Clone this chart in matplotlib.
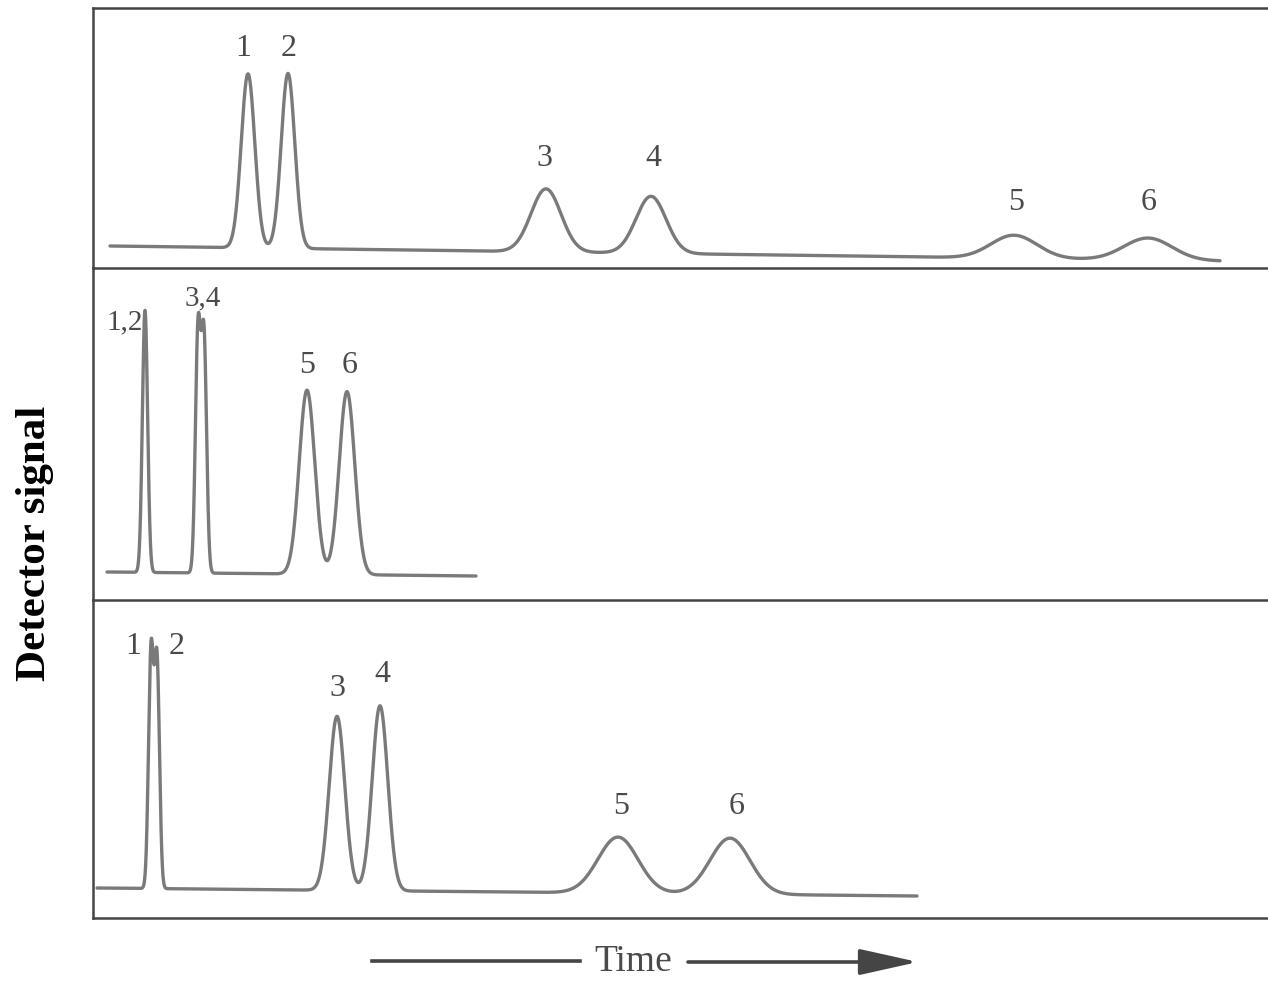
import numpy as np
import matplotlib
matplotlib.use("Agg")
import matplotlib.pyplot as plt

# ---------------- data (time in arbitrary units, signal in arbitrary units) ----------
# Panel 1 (top)
p1_range = [0.17, 11.27]          # start / end time of trace
p1_baseline = [0.0, -15.0]        # baseline signal at start / end
p1_times = [1.55, 1.95, 4.53, 5.58, 9.21, 10.55]
p1_heights = [174, 175, 63, 57, 23, 22]
p1_sigmas = [0.068, 0.068, 0.15, 0.15, 0.23, 0.24]
p1_labels = ["1", "2", "3", "4", "5", "6"]
p1_label_t = [1.50, 1.96, 4.51, 5.60, 9.23, 10.56]
p1_label_s = [198, 198, 88, 88, 44, 44]

# Panel 2 (middle)
p2_range = [0.14, 3.83]
p2_baseline = [0.0, -4.0]
p2_times = [0.52, 1.05, 1.11, 2.14, 2.54]
p2_heights = [262, 240, 232, 184, 183]
p2_sigmas = [0.026, 0.026, 0.026, 0.078, 0.078]
p2_labels = ["1,2", "3,4", "5", "6"]
p2_label_t = [0.32, 1.10, 2.14, 2.57]
p2_label_s = [250, 274, 207, 207]

# Panel 3 (bottom)
p3_range = [0.04, 8.24]
p3_baseline = [0.0, -8.0]
p3_times = [0.58, 0.64, 2.44, 2.87, 5.25, 6.37]
p3_heights = [235, 225, 174, 185, 56, 56]
p3_sigmas = [0.025, 0.025, 0.078, 0.078, 0.20, 0.20]
p3_labels = ["1", "2", "3", "4", "5", "6"]
p3_label_t = [0.40, 0.84, 2.44, 2.89, 5.28, 6.44]
p3_label_s = [241, 241, 200, 213, 82, 82]

# vertical signal range of each panel (bottom, top)
p1_ylim = [-22, 238]
p2_ylim = [-28, 304]
p3_ylim = [-30, 288]

x_max = 11.75
axis_label = "Detector signal"
time_label = "Time"

# ---------------- figure ----------------
W, H = 1268, 982
fig = plt.figure(figsize=(W / 100, H / 100), dpi=100)
fig.patch.set_facecolor("white")

trace_color = "#7a7a7a"
rule_color = "#454545"
label_color = "#4a4a4a"
serif = ["Liberation Serif", "DejaVu Serif"]

left = 93 / W
panels = [
    (8, 268, p1_range, p1_baseline, p1_times, p1_heights, p1_sigmas,
     p1_labels, p1_label_t, p1_label_s, p1_ylim),
    (268, 600, p2_range, p2_baseline, p2_times, p2_heights, p2_sigmas,
     p2_labels, p2_label_t, p2_label_s, p2_ylim),
    (600, 918, p3_range, p3_baseline, p3_times, p3_heights, p3_sigmas,
     p3_labels, p3_label_t, p3_label_s, p3_ylim),
]

for i, (ytop, ybot, rng, base, times, heights, sigmas,
        labels, lt, ls, ylim) in enumerate(panels):
    ax = fig.add_axes([left, 1 - ybot / H, 1 - left, (ybot - ytop) / H])
    ax.set_facecolor("none")
    t = np.linspace(rng[0], rng[1], 6000)
    signal = np.interp(t, rng, base)
    for t0, h, s in zip(times, heights, sigmas):
        signal = signal + h * np.exp(-0.5 * ((t - t0) / s) ** 2)
    ax.plot(t, signal, color=trace_color, lw=2.4, solid_capstyle="round")
    for lab, x, y in zip(labels, lt, ls):
        fs = 21 if "," in lab else 23
        ax.text(x, y, lab, ha="center", va="center", fontsize=fs,
                family=serif, color=label_color)
    ax.set_xlim(0, x_max)
    ax.set_ylim(*ylim)
    ax.set_xticks([])
    ax.set_yticks([])
    ax.spines["right"].set_visible(False)
    ax.spines["top"].set_visible(i == 0)
    for sp in ["left", "bottom", "top"]:
        ax.spines[sp].set_color(rule_color)
        ax.spines[sp].set_linewidth(1.8)

# y label
fig.text(35 / W, 1 - 543 / H, axis_label, rotation=90, ha="center", va="center",
         fontsize=31, fontweight="bold", family=serif, color="black")

# Time label with arrows
fig.text(633 / W, 1 - 962 / H, time_label, ha="center", va="center",
         fontsize=27, family=serif, color=label_color)
fig.add_artist(plt.Line2D([372 / W, 580 / W], [1 - 961 / H, 1 - 961 / H],
                          color=rule_color, lw=2.6, transform=fig.transFigure))
fig.add_artist(matplotlib.patches.FancyArrowPatch(
    (688 / W, 1 - 962 / H), (918 / W, 1 - 962 / H),
    transform=fig.transFigure, arrowstyle="-|>,head_length=1.8,head_width=0.4",
    mutation_scale=20, color=rule_color, lw=2.6, shrinkA=0, shrinkB=0))

fig.savefig("out.png", dpi=100, facecolor="white")
